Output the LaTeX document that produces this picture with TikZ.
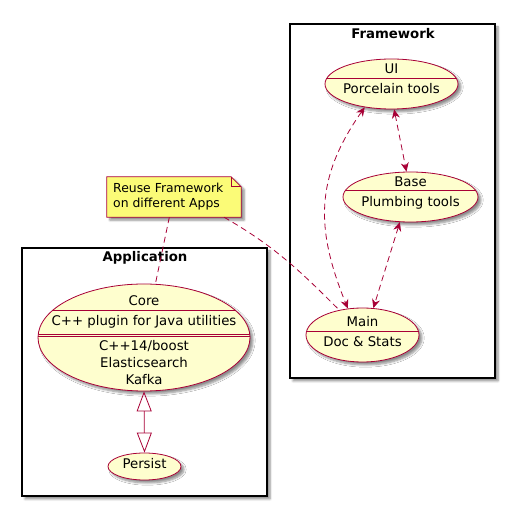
\documentclass[tikz,border=0pt]{standalone}
\usepackage{fontspec}
\setmainfont{DejaVu Sans}
\usetikzlibrary{shapes.geometric, arrows.meta, shadows.blur}
\definecolor{ucfill}{HTML}{FEFECE}
\definecolor{ucline}{HTML}{A80036}
\definecolor{notefill}{HTML}{FBFB77}

\begin{document}
\begin{tikzpicture}[x=1pt, y=1pt,
  pshadow/.style={blur shadow={shadow xshift=3pt, shadow yshift=-3pt, shadow blur steps=6, shadow opacity=45}},
  pkg/.style={draw=black, line width=1.5pt, fill=white, pshadow},
  pkgtitle/.style={font=\fontsize{13.3}{16}\selectfont\bfseries, inner sep=0pt},
  usecase/.style={ellipse, draw=ucline, line width=0.8pt, fill=ucfill, inner sep=0pt, pshadow},
  uctext/.style={font=\fontsize{13.3}{17}\selectfont, inner sep=0pt, text height=10pt, text depth=3pt, align=center},
  sep/.style={draw=ucline, line width=0.8pt},
  dep/.style={draw=ucline, line width=0.8pt, dash pattern=on 6pt off 4pt,
    {Stealth[length=9pt,width=8pt,inset=3pt]}-{Stealth[length=9pt,width=8pt,inset=3pt]}},
  link/.style={draw=ucline, line width=0.8pt, dash pattern=on 6pt off 4pt},
  gen/.style={draw=ucline, line width=0.8pt,
    {Triangle[open,length=20pt,width=15pt]}-{Triangle[open,length=20pt,width=15pt]}},
  notebox/.style={draw=ucline, line width=0.8pt, fill=notefill, pshadow},
  notetext/.style={font=\fontsize{12.4}{15}\selectfont, align=left, inner sep=0pt}
]
\useasboundingbox (0,0) rectangle (506,507);

% packages
\path[pkg] (290,129) rectangle (495,483);
\node[pkgtitle] (fwtitle) at (393,473) {Framework};
\path[pkg] (22,11) rectangle (267,259);
\node[pkgtitle] (apptitle) at (145,249.3) {Application};

% Framework use cases
\node[usecase, minimum width=133pt, minimum height=50pt] (ui) at (391.5,423) {};
\begin{scope}
  \clip (391.5,423) ellipse (66.5 and 25);
  \draw[sep] (320,429) -- (460,429);
\end{scope}
\node[uctext] (uiname) at (391.5,437) {UI};
\node[uctext] (uidesc) at (391.5,417) {Porcelain tools};

\node[usecase, minimum width=135pt, minimum height=50pt] (base) at (410.5,310) {};
\begin{scope}
  \clip (410.5,310) ellipse (67.5 and 25);
  \draw[sep] (340,316.3) -- (480,316.3);
\end{scope}
\node[uctext] (basename) at (410.5,324) {Base};
\node[uctext] (basedesc) at (410.5,303.7) {Plumbing tools};

\node[usecase, minimum width=113pt, minimum height=54pt] (main) at (362.5,172) {};
\begin{scope}
  \clip (362.5,172) ellipse (56.5 and 27);
  \draw[sep] (300,176) -- (420,176);
\end{scope}
\node[uctext] (mainname) at (362.5,183.7) {Main};
\node[uctext] (maindesc) at (362.5,163.7) {Doc \& Stats};

% Application use cases
\node[usecase, minimum width=212pt, minimum height=107pt] (core) at (144,169.5) {};
\begin{scope}
  \clip (144,169.5) ellipse (106 and 53.5);
  \draw[sep] (30,196.3) -- (260,196.3);
  \draw[sep] (30,173) -- (260,173);
  \draw[sep] (30,170.3) -- (260,170.3);
\end{scope}
\node[uctext] (corename) at (144,205) {Core};
\node[uctext] (coredesc) at (144,185) {C++ plugin for Java utilities};
\node[uctext, text height=, text depth=] (corelibs) at (144,144.5) {C++14/boost\\Elasticsearch\\Kafka};

\node[usecase, minimum width=73pt, minimum height=27pt] (persist) at (144.5,40.5) {};
\node[uctext] (persistname) at (144.5,42) {Persist};

% note
\node[minimum width=134pt, minimum height=40pt, inner sep=0pt] (note) at (174,310) {};
\path[notebox] (note.south west) -- (note.north west) -- ([xshift=-10pt]note.north east)
  -- ([yshift=-10pt]note.north east) -- (note.south east) -- cycle;
\draw[sep] ([xshift=-10pt]note.north east) -- ([xshift=-10pt,yshift=-10pt]note.north east)
  -- ([yshift=-10pt]note.north east);
\node[notetext, anchor=west] (notetxt) at (113,310) {Reuse Framework\\on different Apps};

% connectors
\draw[dep] (ui.-139) to[out=235,in=112,looseness=1.1] (main.119);
\draw[dep] (ui.-84) -- (base.99);
\draw[dep] (base.-113) -- (main.68);
\draw[gen] (core.south) -- (persist.north);
\draw[link] (note.-103) -- (core.78);
\draw[link] (note.-22) to[out=-30,in=135] (main.133);
\end{tikzpicture}
\end{document}
